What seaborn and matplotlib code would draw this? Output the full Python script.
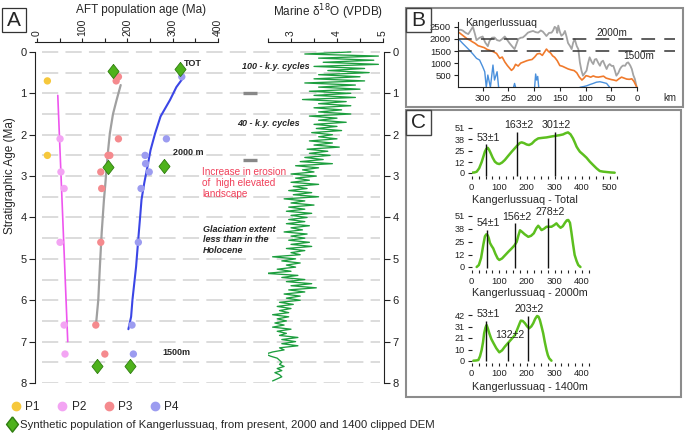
import numpy as np
import pandas as pd
import matplotlib
matplotlib.use('Agg')
import matplotlib.pyplot as plt
import seaborn as sns
from matplotlib.lines import Line2D
from matplotlib.patches import Rectangle
from matplotlib.path import Path

W, H = 685, 434

# ---------------- panel A : AFT populations ----------------
p1_aft = [23, 23]
p1_age = [0.7, 2.5]
p2_aft = [51, 53, 60, 51, 60, 62]
p2_age = [2.1, 2.9, 3.3, 4.6, 6.6, 7.3]
p3_aft = [180, 175, 180, 161, 157, 141, 143, 141, 130, 150]
p3_age = [0.6, 0.7, 2.1, 2.5, 2.5, 2.9, 3.3, 4.6, 6.6, 7.3]
p4_aft = [320, 286, 239, 240, 248, 230, 224, 210, 213]
p4_age = [0.6, 2.1, 2.5, 2.7, 2.9, 3.3, 4.6, 6.6, 7.3]
syn_aft = [167, 316, 158, 281, 132, 206]
syn_age = [0.46, 0.41, 2.79, 2.75, 7.6, 7.6]

trend2_aft = [46, 68]
trend2_age = [1.05, 7.0]
trend3_aft = [185, 176, 168, 161, 157, 154, 151, 148, 143, 139, 135.5, 130]
trend3_age = [0.8, 1.16, 1.5, 1.97, 2.4, 2.78, 3.2, 3.57, 4.37, 5.19, 5.99, 6.64]
trend4_aft = [322, 308, 294, 273, 261, 251, 244, 237, 231, 228, 225, 219, 211, 208, 202]
trend4_age = [0.64, 0.85, 1.16, 1.56, 1.97, 2.37, 2.78, 3.17, 3.57, 3.98, 4.37,
              5.19, 5.99, 6.4, 6.7]

# marine d18O, one value every 0.05 Ma from 0 Ma
d18o_step = 0.05
d18o = [4.3, 3.3, 4.9, 3.6, 4.8, 3.7, 4.9, 3.5, 4.6, 3.8,
        4.7, 3.6, 4.5, 3.5, 4.6, 3.3, 4.4, 3.6, 4.5, 3.4,
        4.3, 3.5, 4.4, 3.25, 4.2, 3.6, 4.3, 3.5, 4.1, 3.6,
        4.3, 3.4, 4.0, 3.6, 4.2, 3.5, 4.0, 3.55, 4.1, 3.45,
        3.9, 3.6, 4.0, 3.4, 3.9, 3.5, 4.05, 3.35, 3.8, 3.4,
        3.85, 3.3, 3.7, 3.2, 3.9, 3.1, 3.6, 3.25, 3.5, 3.0,
        3.55, 3.1, 3.4, 3.0, 3.6, 3.05, 3.35, 2.95, 3.45, 3.05,
        3.6, 2.85, 3.3, 3.0, 3.5, 2.95, 3.3, 2.9, 3.45, 3.0,
        3.35, 2.95, 3.3, 2.9, 3.4, 3.0, 3.25, 2.85, 3.35, 3.0,
        3.3, 2.95, 3.4, 3.0, 3.45, 2.9, 3.3, 3.0, 3.2, 2.6,
        3.1, 2.8, 3.2, 2.9, 3.1, 2.7, 3.0, 2.45, 3.15, 2.8,
        3.3, 2.9, 3.45, 3.0, 3.55, 2.95, 3.3, 2.85, 3.2, 2.9,
        3.2, 2.75, 3.05, 2.7, 3.0, 2.75, 2.95, 2.6, 2.95, 2.7,
        2.9, 2.65, 2.85, 2.6, 3.0, 2.7, 2.9, 2.75, 3.15, 2.8,
        3.1, 2.8, 3.15, 2.75, 2.85, 2.6, 2.45, 2.55, 2.7, 2.75,
        2.8, 2.75, 2.85, 2.7, 2.8, 2.65, 2.75, 2.8, 2.7, 2.6]
d18o_age = np.arange(len(d18o)) * d18o_step

# ---------------- panel B : topographic profiles ----------------
max_km = [348, 343, 339, 333, 328, 324, 319, 315, 312, 306, 300, 295, 290, 287, 282,
          277, 272, 267, 262, 257, 252, 248, 243, 238, 235, 231, 226, 222, 217, 212,
          207, 202, 197, 192, 187, 183, 179, 176, 171, 166, 163, 160, 157, 155, 153,
          150, 147, 143, 140, 137, 134, 130, 127, 124, 121, 117, 114, 111, 108, 105,
          101, 98, 95, 92, 88, 85, 82, 79, 75, 72, 69, 66, 62, 59, 56,
          53, 49, 46, 43, 40, 36, 33, 30, 27, 23, 20, 17, 13, 10, 7, 4, 1]
max_m = [2360, 2380, 2350, 2250, 2200, 2330, 2500, 2200, 1950, 2050, 2100, 1850, 1700, 1900, 2050,
         2060, 1950, 1920, 2000, 2100, 1950, 1830, 1700, 1580, 1750, 1990, 2050, 2060, 2150, 2260,
         2300, 2330, 2280, 2260, 2350, 2300, 2200, 2120, 2250, 2260, 2350, 2500, 2450, 2250, 2550,
         2300, 2130, 2200, 2330, 2100, 1830, 1700, 1580, 1850, 1990, 1700, 1580, 1030, 700, 480,
         600, 690, 1000, 1240, 1050, 960, 1150, 1170, 1000, 890, 1050, 1100, 900, 755, 900,
         960, 880, 890, 700, 480, 600, 755, 850, 900, 890, 1000, 1030, 900, 755, 500, 340, 50]
mean_km = [348, 342, 336, 330, 325, 320, 315, 309, 303, 297, 291, 285, 279, 273, 267, 262,
           257, 252, 248, 244, 240, 236, 231, 226, 220, 214, 209, 204, 199, 194, 189, 184,
           180, 176, 172, 168, 164, 160, 155, 150, 145, 140, 134, 128, 122, 117, 112, 107,
           103, 99, 95, 90, 85, 80, 75, 70, 65, 60, 55, 50, 45, 40, 35, 30, 25, 20, 15, 10, 6, 3, 0]
mean_m = [2300, 2200, 2100, 2000, 1950, 1880, 1820, 1720, 1680, 1640, 1560, 1520, 1470, 1400, 1200, 1250,
          1050, 900, 800, 700, 780, 950, 880, 1000, 1050, 1100, 1130, 1150, 1250, 1380, 1400, 1320,
          1450, 1580, 1480, 1420, 1300, 1240, 1100, 900, 870, 820, 760, 720, 690, 600, 420, 300,
          380, 480, 460, 420, 470, 430, 420, 440, 460, 380, 350, 320, 300, 270, 350, 420, 380, 340,
          330, 350, 250, 120, 0]
min_seg = [0] * 15 + [1] * 3 + [2] * 5 + [3] * 10
min_km = [348, 339, 326, 318, 312, 306, 300, 296, 293, 290, 285, 280, 277, 272, 269,
          240, 238, 236,
          199, 197, 195, 193, 191,
          111, 104, 98, 92, 85, 79, 72, 66, 59, 53]
min_m = [2023, 1817, 1541, 1350, 1197, 1127, 852, 644, 0, 507, 0, 920, 300, 644, 0,
         0, 160, 0,
         0, 550, 300, 450, 0,
         0, 30, 60, 110, 160, 210, 230, 200, 160, 0]

# ---------------- panel C : synthetic age distributions ----------------
c1_x = [0, 10, 18, 27, 36, 43, 48, 53, 58, 63, 69, 76, 84, 92, 100, 110, 120, 132, 145, 157,
        169, 175, 181, 190, 199, 208, 218, 229, 241, 256, 271, 288, 305, 318, 331, 340, 349,
        358, 367, 374, 380, 386, 392, 404, 416, 428, 440, 452, 464, 476, 488, 503, 518]
c1_y = [0, 0.3, 1.1, 5, 12, 19, 24, 27, 28.3, 26, 22, 17, 12.5, 10.5, 9.8, 11.5, 14.4, 19, 23.8, 28,
        32.1, 33.8, 34.4, 33.5, 32, 31.4, 33, 36.5, 38.9, 39.5, 40, 41, 41.9, 42.5, 43.4, 44.8, 45.7,
        43.5, 38.9, 34, 29.5, 26.5, 23.8, 20.5, 17, 12.5, 8.7, 5, 1.9, 1.2, 0.8, 0.3, 0]
c2_x = [18, 26, 34, 42, 48, 53, 58, 62, 66, 72, 78, 86, 94, 100, 110, 122, 134, 145, 155, 163,
        170, 175, 182, 192, 205, 215, 225, 234, 241, 247, 253, 262, 271, 280, 289, 298, 307, 314,
        322, 330, 338, 345, 350, 356, 361, 367, 373, 380, 386, 394]
c2_y = [0, 2, 9, 22, 30.5, 32.5, 31.5, 28.5, 24, 21, 18.5, 13, 8.5, 7, 8.5, 12, 15.5, 18.5, 21.5, 25,
        32, 36.5, 35, 32.5, 30, 31, 33.5, 38.5, 41, 39, 36.7, 38, 40, 40, 40, 41.5, 43.4, 41,
        39, 40.5, 44, 46.5, 46.7, 44, 35, 23, 12, 6, 2, 0]
c3_x = [6, 16, 24, 30, 36, 41, 45, 50, 54, 58, 64, 71, 78, 89, 100, 110, 120, 130, 139, 148,
        157, 163, 169, 174, 178, 185, 193, 201, 208, 216, 223, 230, 237, 242, 247, 253, 259,
        265, 271, 276, 281, 289]
c3_y = [0, 0.2, 0.6, 4, 9.8, 17, 25, 30.5, 32.8, 30, 25, 20, 16.6, 11.5, 7.7, 9.5, 12.9, 15.8, 18.4, 21,
        23.6, 27.5, 31.3, 34.5, 36.8, 36.5, 34.4, 31.5, 29.8, 31.5, 34.4, 38.5, 41.1, 40.5, 37.4,
        31.5, 25.2, 17, 9.8, 5, 2.1, 0]
c1_peaks = [53, 163, 301]
c1_tops = [32, 46.5, 46.5]
c1_labels = ['53±1', '163±2', '301±2']
c2_peaks = [54, 156, 278]
c2_tops = [36.8, 43.4, 48.3]
c2_labels = ['54±1', '156±2', '278±2']
c3_peaks = [53, 132, 203]
c3_tops = [36.8, 17.5, 41]
c3_labels = ['53±1', '132±2', '203±2']

pop_colors = {'P1': '#f6c83c', 'P2': '#f3a4f3', 'P3': '#f58a8e', 'P4': '#9c9cf0'}
syn_green = '#4eb21c'
kde_green = '#5cbf1f'

sns.set_theme(style='ticks')
plt.rcParams['font.family'] = ['Liberation Sans', 'DejaVu Sans']
plt.rcParams['axes.linewidth'] = 0.8
plt.rcParams['xtick.major.width'] = 0.8
plt.rcParams['ytick.major.width'] = 0.8
plt.rcParams['xtick.minor.width'] = 0.8
plt.rcParams['xtick.color'] = '#222222'
plt.rcParams['ytick.color'] = '#222222'
plt.rcParams['axes.edgecolor'] = '#222222'

fig = plt.figure(figsize=(W / 100, H / 100), dpi=100)


def px_axes(x0, y0, x1, y1):
    return fig.add_axes([x0 / W, 1 - y1 / H, (x1 - x0) / W, (y1 - y0) / H])


# ---- dashed background grid across panel A
ax_bg = px_axes(35, 42, 380, 383)
ax_bg.set_ylim(8, -0.24)
ax_bg.set_xlim(0, 1)
ax_bg.hlines(np.arange(0, 8.01, 0.5), 0.02, 1, colors='#d9d9d9', lw=1.3,
             linestyles=(0, (9, 4)))
ax_bg.axis('off')

# ---- AFT axes
ax_a = px_axes(34.7, 42, 218, 383)
ax_a.set_facecolor('none')
pts = pd.DataFrame({
    'aft': p1_aft + p2_aft + p3_aft + p4_aft,
    'age': p1_age + p2_age + p3_age + p4_age,
    'pop': ['P1'] * len(p1_aft) + ['P2'] * len(p2_aft) + ['P3'] * len(p3_aft) + ['P4'] * len(p4_aft),
})
sns.lineplot(x=trend2_aft, y=trend2_age, sort=False, estimator=None, color='#ee55ee', lw=1.2, ax=ax_a)
sns.lineplot(x=trend3_aft, y=trend3_age, sort=False, estimator=None, color='#a0a0a0', lw=1.6, ax=ax_a)
sns.lineplot(x=trend4_aft, y=trend4_age, sort=False, estimator=None, color='#3b46e6', lw=1.5, ax=ax_a)
sns.scatterplot(data=pts, x='aft', y='age', hue='pop', palette=pop_colors, s=28,
                edgecolor='none', legend=False, ax=ax_a, zorder=3)
diamond = Path([(0, 1), (0.78, 0), (0, -1), (-0.78, 0), (0, 1)])
sns.scatterplot(x=syn_aft, y=syn_age, marker=diamond, s=105, color=syn_green,
                edgecolor='#2f7d10', linewidth=0.6, ax=ax_a, zorder=4)
ax_a.set_xlim(-5, 400)
ax_a.set_ylim(8, -0.24)
ax_a.xaxis.set_ticks_position('top')
ax_a.set_xticks([0, 100, 200, 300, 400])
ax_a.set_xticks([50, 150, 250, 350], minor=True)
ax_a.tick_params(axis='x', which='both', top=True, bottom=False, direction='out',
                 length=3, pad=1, labelsize=7.5, labelrotation=90)
ax_a.set_yticks(range(9))
ax_a.tick_params(axis='y', direction='out', length=4.3, pad=1.5, labelsize=8)
ax_a.spines['left'].set_bounds(0, 8)
ax_a.spines['right'].set_visible(False)
ax_a.spines['bottom'].set_visible(False)
ax_a.set_xlabel('')
ax_a.set_ylabel('')

ax_a.text(325, 0.29, 'TOT', fontsize=6.5, fontweight='bold', va='center')
ax_a.text(300, 2.44, '2000 m', fontsize=6.5, fontweight='bold', va='center')
ax_a.text(278, 7.27, '1500m', fontsize=6.5, fontweight='bold', va='center')
ax_a.text(453, 0.36, '100 - k.y. cycles', fontsize=6.5, fontweight='bold',
          fontstyle='italic', va='center')
ax_a.text(442, 1.74, '40 - k.y. cycles', fontsize=6.5, fontweight='bold',
          fontstyle='italic', va='center')
ax_a.text(365, 3.17, 'Increase in erosion\nof  high elevated\nlandscape', fontsize=7.2,
          color='#f0405a', va='center', linespacing=1.15)
ax_a.text(367, 4.54, 'Glaciation extent\nless than in the\nHolocene', fontsize=6.5,
          fontweight='bold', fontstyle='italic', va='center', linespacing=1.2)
ax_a.hlines([0.99, 2.6], 455, 487, colors='#888888', lw=2.4, clip_on=False)

# ---- d18O axes
ax_o = px_axes(268, 42, 384, 383)
ax_o.set_facecolor('none')
sns.lineplot(x=d18o, y=d18o_age, sort=False, estimator=None, color='#1c9e3e', lw=0.95, ax=ax_o)
ax_o.set_xlim(2.5, 2.5 + 116 / 46)
ax_o.set_ylim(8, -0.24)
ax_o.xaxis.set_ticks_position('top')
ax_o.set_xticks([3, 4, 5])
ax_o.set_xticks([2.5, 3.5, 4.5], minor=True)
ax_o.tick_params(axis='x', which='both', top=True, bottom=False, direction='out',
                 length=3, pad=1, labelsize=7.5, labelrotation=90)
ax_o.yaxis.set_ticks_position('right')
ax_o.set_yticks(range(9))
ax_o.tick_params(axis='y', right=True, left=False, direction='out', length=4,
                 pad=2, labelsize=8)
ax_o.spines['top'].set_bounds(2.5, 5.0)
ax_o.spines['right'].set_bounds(0, 8)
ax_o.spines['left'].set_visible(False)
ax_o.spines['bottom'].set_visible(False)
ax_o.set_xlabel('')
ax_o.set_ylabel('')

# ---------------- panel B ----------------
ax_b = px_axes(458, 22, 675, 87.3)
ax_b.set_facecolor('none')
sns.lineplot(x=max_km, y=max_m, sort=False, estimator=None, color='#a3a3a3', lw=1.3, ax=ax_b)
sns.lineplot(x=mean_km, y=mean_m, sort=False, estimator=None, color='#f07a2c', lw=1.2, ax=ax_b)
min_df = pd.DataFrame({'km': min_km, 'm': min_m, 'seg': min_seg})
sns.lineplot(data=min_df, x='km', y='m', units='seg', sort=False, estimator=None,
             color='#4a90dc', lw=1.0, ax=ax_b)
for lvl in [2000, 1500]:
    ax_b.axhline(lvl, color='#333333', lw=1.1, ls=(0, (9, 6)))
ax_b.set_xlim(348, -74)
ax_b.set_ylim(0, 2700)
ax_b.set_xticks([300, 250, 200, 150, 100, 50, 0])
ax_b.set_yticks([500, 1000, 1500, 2000, 2500])
ax_b.tick_params(direction='out', length=3, pad=2, labelsize=6.8)
ax_b.spines['bottom'].set_bounds(348, 0)
ax_b.spines['top'].set_visible(False)
ax_b.spines['right'].set_visible(False)
ax_b.set_xlabel('')
ax_b.set_ylabel('')
ax_b.text(335, 2655, 'Kangerlussuaq', fontsize=7.7, va='center')
ax_b.text(78, 2243, '2000m', fontsize=7.2, va='center')
ax_b.text(27, 1293, '1500m', fontsize=7.2, va='center')
ax_b.text(-64, -442, 'km', fontsize=7, va='center', ha='center')

# ---------------- panel C ----------------
c_specs = [
    (c1_x, c1_y, c1_peaks, c1_tops, c1_labels, -3.4, (471.7, 122, 620, 179), 172.7, 0.882,
     [0, 12, 25, 38, 51], [0, 100, 200, 300, 400, 500], 3.0),
    (c2_x, c2_y, c2_peaks, c2_tops, c2_labels, -0.7, (471.7, 205, 590, 273), 267, 1.006,
     [0, 12, 25, 38, 51], [0, 100, 200, 300, 400], 3.0),
    (c3_x, c3_y, c3_peaks, c3_tops, c3_labels, 0, (471.7, 305, 590, 366), 360.7, 1.088,
     [0, 10, 21, 31, 42], [0, 100, 200, 300, 400], 2.0),
]
for cx, cy, peaks, tops, labels, vbot, (x0, y0, x1, y1), zero_y, ppu, yt, xt, xpad in c_specs:
    ax = px_axes(x0, y0, x1, y1)
    ax.set_facecolor('none')
    sns.lineplot(x=cx, y=cy, sort=False, estimator=None, color=kde_green, lw=1.8, ax=ax)
    ax.vlines(peaks, vbot, tops, colors='#111111', lw=1.0)
    for pk, tp, lb in zip(peaks, tops, labels):
        ax.text(pk + 6, tp + 1.5, lb, fontsize=7.7, ha='center', va='bottom')
    ax.set_xlim(0, (x1 - x0) / 0.276)
    ax.set_ylim((zero_y - y1) / ppu, (zero_y - y0) / ppu)
    ax.set_yticks(yt)
    ax.set_xticks(xt)
    ax.set_xticks(np.arange(25, xt[-1] + 26, 25), minor=True)
    ax.tick_params(axis='y', direction='out', length=3, pad=2, labelsize=6.6)
    ax.tick_params(axis='x', which='both', direction='in', length=2.5, pad=xpad,
                   labelsize=6.8)
    for sp in ax.spines.values():
        sp.set_visible(False)
    ax.set_xlabel('')
    ax.set_ylabel('')

# ---------------- frames, labels, legend ----------------
ax_ov = fig.add_axes([0, 0, 1, 1])
ax_ov.set_xlim(0, W)
ax_ov.set_ylim(H, 0)
ax_ov.axis('off')
ax_ov.add_patch(Rectangle((2, 8), 24, 24, fill=False, ec='#333333', lw=0.9))
ax_ov.text(14, 20.5, 'A', fontsize=15, ha='center', va='center')
ax_ov.add_patch(Rectangle((406, 8), 277, 99, fill=False, ec='#8c8c8c', lw=1.5))
ax_ov.add_patch(Rectangle((406, 8), 25, 24, fill=False, ec='#444444', lw=1.0))
ax_ov.text(418.5, 20.5, 'B', fontsize=15, ha='center', va='center')
ax_ov.add_patch(Rectangle((406, 110), 275, 287, fill=False, ec='#8c8c8c', lw=1.5))
ax_ov.add_patch(Rectangle((406, 110), 25, 25, fill=False, ec='#444444', lw=1.0))
ax_ov.text(418.5, 123, 'C', fontsize=15, ha='center', va='center')

ax_ov.text(141, 10, 'AFT population age (Ma)', fontsize=8.5, ha='center', va='center')
ax_ov.text(328, 12, 'Marine δ$^{18}$O (VPDB)', fontsize=8.5, ha='center', va='center')
ax_ov.text(10, 176, 'Stratigraphic Age (Ma)', fontsize=8.5, ha='center', va='center',
           rotation=90)
ax_ov.text(525, 200, 'Kangerlussuaq - Total', fontsize=7.8, ha='center', va='center')
ax_ov.text(530, 293, 'Kangerlussuaq - 2000m', fontsize=7.8, ha='center', va='center')
ax_ov.text(530, 387, 'Kangerlussuaq - 1400m', fontsize=7.8, ha='center', va='center')

h1 = [Line2D([], [], marker='o', ls='', color=pop_colors[p], markersize=6) for p in pop_colors]
fig.legend(h1, list(pop_colors), loc='center left', bbox_to_anchor=(10 / W, 1 - 407 / H),
           ncol=4, frameon=False, fontsize=8.5, handletextpad=0.3, columnspacing=1.4,
           handlelength=1.0, borderpad=0, borderaxespad=0)
h2 = [Line2D([], [], marker=diamond, ls='', color=syn_green, markeredgecolor='#2f7d10',
             markersize=11)]
fig.legend(h2, ['Synthetic population of Kangerlussuaq, from present, 2000 and 1400 clipped DEM'],
           loc='center left', bbox_to_anchor=(6 / W, 1 - 425 / H), frameon=False,
           fontsize=8.2, handletextpad=0.2, handlelength=1.0, borderpad=0, borderaxespad=0)

fig.savefig('out.png', dpi=100)
